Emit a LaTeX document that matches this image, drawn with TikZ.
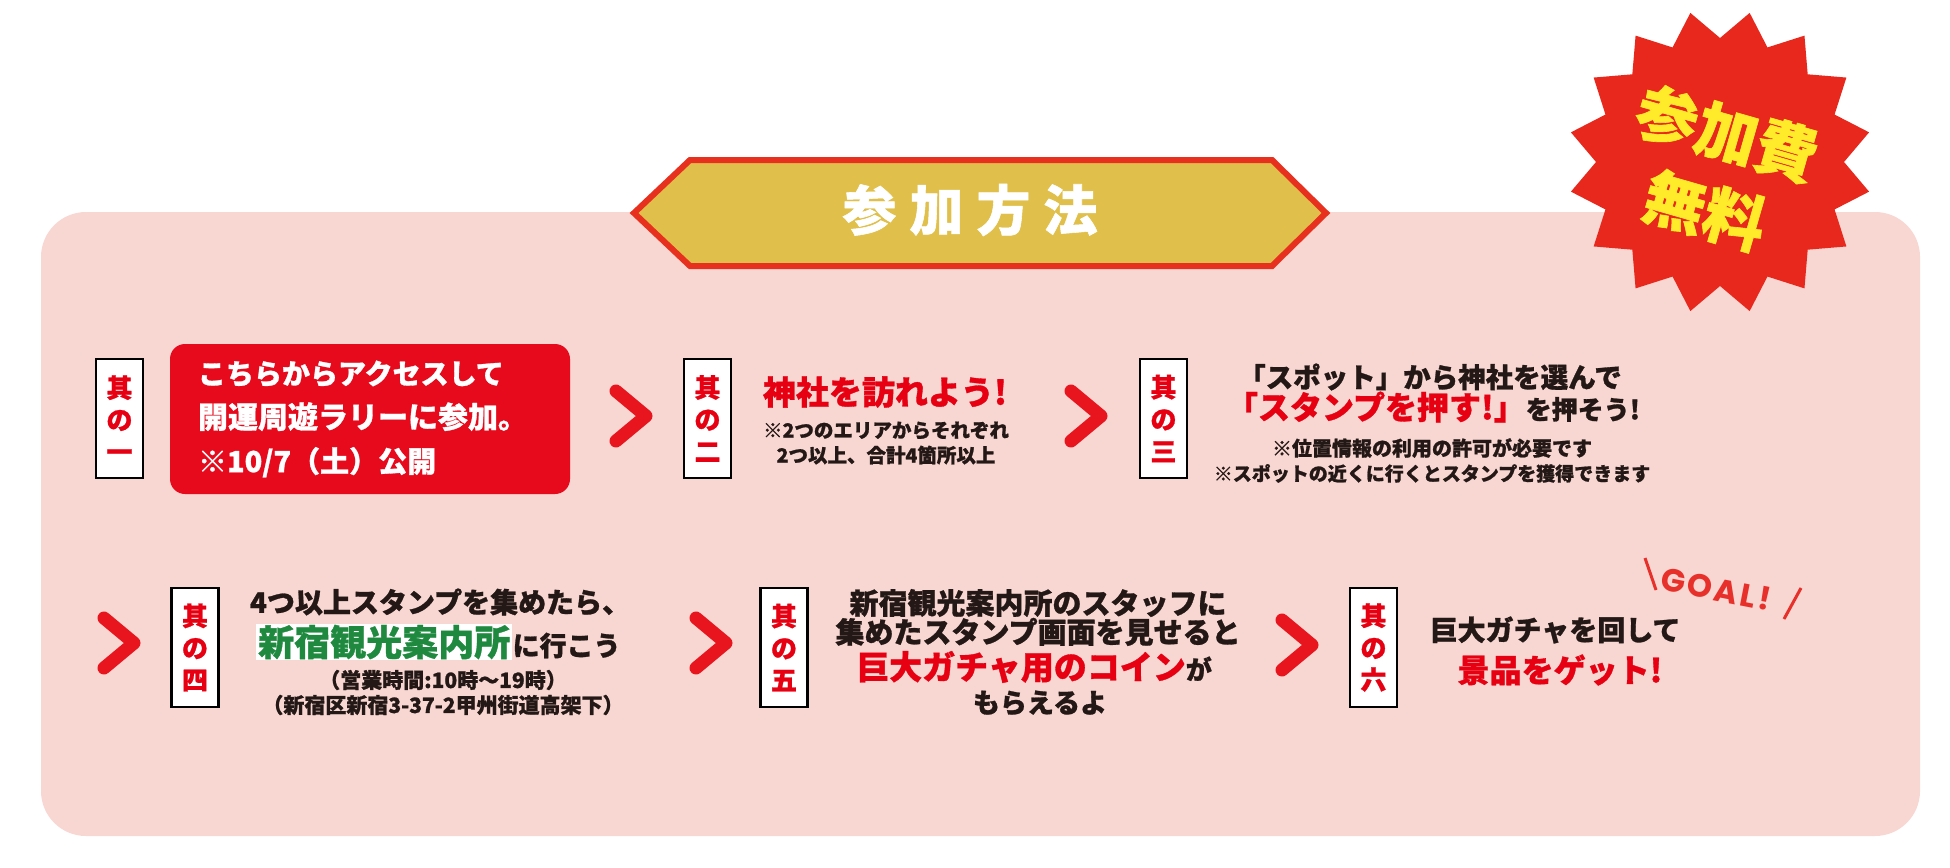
\documentclass[tikz,border=0pt]{standalone}
\usepackage{fontspec}
\setmainfont{Noto Sans CJK JP}[BoldFeatures={FakeBold=1}]
\newfontfamily\goalfont{Poppins}[LetterSpace=8]
\usetikzlibrary{positioning}

\definecolor{panelpink}{HTML}{F8D6D1}
\definecolor{boxred}{HTML}{E60A1C}
\definecolor{chevred}{HTML}{E8141E}
\definecolor{bannergold}{HTML}{E0C04A}
\definecolor{bannerred}{HTML}{E8301E}
\definecolor{starred}{HTML}{E8281C}
\definecolor{staryellow}{HTML}{FFEB2A}
\definecolor{inkdark}{HTML}{231815}
\definecolor{inkred}{HTML}{E60012}
\definecolor{inkgreen}{HTML}{1F8A3F}
\definecolor{goalred}{HTML}{E8302A}

\newcommand*{\Px}[2]{\bfseries\fontsize{#1}{#2}\selectfont}

\begin{document}
\begin{tikzpicture}[
  x=1pt, y=-1pt,
  every node/.style={inner sep=0pt},
  tag node/.style={draw=black, line width=2.2pt, fill=white,
    minimum width=47pt, minimum height=119pt, align=center,
    text=inkred, font=\Px{26}{32}},
  box node/.style={fill=boxred, rounded corners=15pt,
    minimum width=400pt, minimum height=150pt, text width=344pt,
    align=left, text=white, font=\Px{28}{44}},
  chevron/.style={draw=chevred, line width=13pt, line cap=round, line join=round},
  dark text/.style={text=inkdark, align=center},
  red text/.style={text=inkred, align=center},
]
  \newcommand*{\StarPoints}{16}
  \newcommand*{\StarOuter}{152}
  \newcommand*{\StarInner}{124}

  \useasboundingbox (0,0) rectangle (1950,867);

  % Pink panel, title banner sits on its upper edge
  \fill[panelpink, rounded corners=45pt] (41,212) rectangle (1920,836);
  \draw[bannerred, fill=bannergold, line width=6pt]
    (634,213) -- (690,160) -- (1272,160) -- (1326,213)
    -- (1272,266) -- (690,266) -- cycle;
  \node[text=white, font=\Px{54}{54}] (title) at (970,210)
    {参\hspace{13pt}加\hspace{13pt}方\hspace{13pt}法};

  % Star burst, tips every 360/\StarPoints degrees
  \fill[starred, shift={(1720,162)}]
    (11.25:\StarOuter)
    \foreach \i in {1,...,31} {
      -- ({11.25 + \i*180/\StarPoints}:{isodd(\i) ? \StarInner : \StarOuter})
    }
    -- cycle;
  \node[text=staryellow, align=center, rotate=-16, font=\Px{62}{80}]
    (free) at (1716,172) {参加費\\無料};

  % Chevrons between the steps
  \foreach \x/\y in {631/416, 1086/416, 119/643, 711/643, 1297/645}
    \draw[chevron] (\x-15,\y-25) -- (\x+15,\y) -- (\x-15,\y+25);

  % Step tags, node names: tag1, tag2, ...
  \foreach \x/\y/\k [count=\i] in {119.5/418.5/一, 707.5/418.5/二,
      1163.5/418.5/三, 195/647.5/四, 784/647.5/五, 1373.5/647.5/六}
    \node[tag node] (tag\i) at (\x,\y) {其\\の\\\k};

  % Step 1
  \node[box node] (box1) at (370,419)
    {こちらからアクセスして\\{\fontsize{30}{44}\selectfont 開運周遊ラリーに参加。}\\%
     {\fontsize{29}{44}\selectfont ※10/7（土）公開}};

  % Step 2
  \node[red text, font=\Px{33}{33}] (head2) at (885,392) {神社を訪れよう!};
  \node[dark text, font=\Px{19.5}{25}] (note2) at (886,443)
    {※2つのエリアからそれぞれ\\2つ以上、合計4箇所以上};

  % Step 3
  \node[dark text, font=\Px{27.5}{27.5}] (head3) at (1430,377) {「スポット」から神社を選んで};
  \node[dark text, font=\Px{26}{26}] (push3) at (1433,407)
    {{\color{inkred}\fontsize{32}{32}\selectfont「スタンプを押す!」}を押そう!};
  \node[dark text, font=\Px{20}{25}] (note3) at (1432,460.5)
    {※位置情報の利用の許可が必要です\\{\fontsize{19}{25}\selectfont ※スポットの近くに行くとスタンプを獲得できます}};

  % Step 4
  \node[dark text, font=\Px{28}{28}] (head4) at (440,602) {4つ以上スタンプを集めたら、};
  \node[text=inkgreen, fill=white, inner xsep=2pt, inner ysep=1pt,
    anchor=west, font=\Px{36}{36}] (desk4) at (256,642) {新宿観光案内所};
  \node[text=inkdark, anchor=base west, font=\Px{27}{27}] (go4) at (desk4.base east) {に行こう};
  \node[dark text, font=\Px{21}{25}] (note4) at (443,692.5)
    {（営業時間:10時〜19時）\\（新宿区新宿3-37-2甲州街道高架下）};

  % Step 5
  \node[dark text, font=\Px{29}{29}] (head5) at (1038,617.5)
    {新宿観光案内所のスタッフに\\集めたスタンプ画面を見せると};
  \node[dark text, font=\Px{26}{26}] (coin5) at (1034,667)
    {{\color{inkred}\fontsize{33}{33}\selectfont 巨大ガチャ用のコイン}が};
  \node[dark text, font=\Px{27}{27}] (get5) at (1040,703) {もらえるよ};

  % Step 6
  \node[dark text, font=\Px{28}{28}] (head6) at (1555,630) {巨大ガチャを回して};
  \node[red text, font=\Px{32}{32}] (prize6) at (1560,670) {景品をゲット!};
  \node[text=goalred, rotate=-11, font=\goalfont\bfseries\fontsize{32}{32}\selectfont]
    (goal) at (1716,589) {GOAL!};
  \draw[goalred, line width=3pt] (1645,558) -- (1656,590) (1801,588) -- (1784,619);

\end{tikzpicture}
\end{document}
